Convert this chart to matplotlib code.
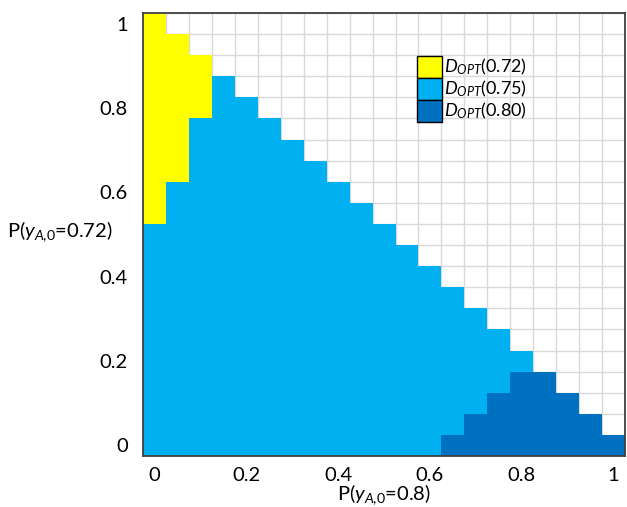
import numpy as np
import matplotlib
matplotlib.use("Agg")
import matplotlib.pyplot as plt
from matplotlib.colors import ListedColormap, BoundaryNorm
from matplotlib.patches import Patch

plt.rcParams['font.family'] = ['Lato', 'DejaVu Sans']
plt.rcParams['mathtext.fontset'] = 'custom'
plt.rcParams['mathtext.rm'] = 'Lato'
plt.rcParams['mathtext.it'] = 'Lato:italic'

# grid of probabilities (cell centres)
p_x = [0.0, 0.05, 0.1, 0.15, 0.2, 0.25, 0.3, 0.35, 0.4, 0.45, 0.5,
       0.55, 0.6, 0.65, 0.7, 0.75, 0.8, 0.85, 0.9, 0.95, 1.0]
p_y = p_x

# number of cells in each column, stacked from the bottom up
rows_080 = [0, 0, 0, 0, 0, 0, 0, 0, 0, 0, 0, 0, 0, 1, 2, 3, 4, 4, 3, 2, 1]
rows_075 = [11, 13, 16, 18, 17, 16, 15, 14, 13, 12, 11, 10, 9, 7, 5, 3, 1, 0, 0, 0, 0]
rows_072 = [10, 7, 3, 0, 0, 0, 0, 0, 0, 0, 0, 0, 0, 0, 0, 0, 0, 0, 0, 0, 0]

labels = ['$D_{OPT}$(0.72)', '$D_{OPT}$(0.75)', '$D_{OPT}$(0.80)']
colors = ['#FFFF00', '#00B0F0', '#0070C0']

# class matrix: 0 -> 0.72, 1 -> 0.75, 2 -> 0.80
Z = np.full((len(p_y), len(p_x)), np.nan)
for i in range(len(p_x)):
    j = 0
    for code, n in [(2, rows_080[i]), (1, rows_075[i]), (0, rows_072[i])]:
        Z[j:j + n, i] = code
        j += n
Z = np.ma.masked_invalid(Z)

step = p_x[1] - p_x[0]
xe = np.append(np.array(p_x) - step / 2, p_x[-1] + step / 2)
ye = np.append(np.array(p_y) - step / 2, p_y[-1] + step / 2)

fig = plt.figure(figsize=(6.27, 5.07), dpi=100)
ax = fig.add_axes([0.228, 0.1006, 0.769, 0.8738])

cmap = ListedColormap(colors)
norm = BoundaryNorm([-0.5, 0.5, 1.5, 2.5], 3)
ax.pcolormesh(xe, ye, Z, cmap=cmap, norm=norm, zorder=1)

ax.set_xlim(xe[0], xe[-1])
ax.set_ylim(ye[0], ye[-1])

fs = 14.5
ticks = [0, 0.2, 0.4, 0.6, 0.8, 1]
ax.set_xticks(ticks)
ax.set_xticklabels(['0', '0.2', '0.4', '0.6', '0.8', '1'])
ax.set_yticks(ticks)
ax.set_yticklabels(['0', '0.2', '0.4', '0.6', '0.8', '1'])
ax.set_xticks(xe, minor=True)
ax.set_yticks(ye, minor=True)
ax.tick_params(which='both', length=0, labelsize=fs, colors='#000000')
ax.tick_params(axis='x', pad=8)
ax.tick_params(axis='y', pad=11)

ax.set_axisbelow(True)
ax.grid(which='minor', color='#D9D9D9', linewidth=1.0)
ax.grid(which='major', visible=False)

for s in ax.spines.values():
    s.set_color('#404040')
    s.set_linewidth(1.3)
    s.set_zorder(3)

ax.set_xlabel('P($y_{\\mathit{A{,}0}}$=0.8)', fontsize=fs)
ax.xaxis.set_label_coords(0.5, -0.06)
ax.set_ylabel('P($y_{\\mathit{A{,}0}}$=0.72)', fontsize=fs, rotation=0,
              ha='right', va='center')
ax.yaxis.set_label_coords(-0.062, 0.506)

handles = [Patch(facecolor=c, edgecolor='#000000', linewidth=1.0) for c in colors]
ax.legend(handles, labels, loc='upper left', bbox_to_anchor=(0.5685, 0.9036),
          frameon=False, fontsize=13, handlelength=1.42 * 12.5 / 13,
          handleheight=1.5, handletextpad=0.1, labelspacing=0.0,
          borderpad=0, borderaxespad=0)

fig.savefig('out.png', dpi=100)
